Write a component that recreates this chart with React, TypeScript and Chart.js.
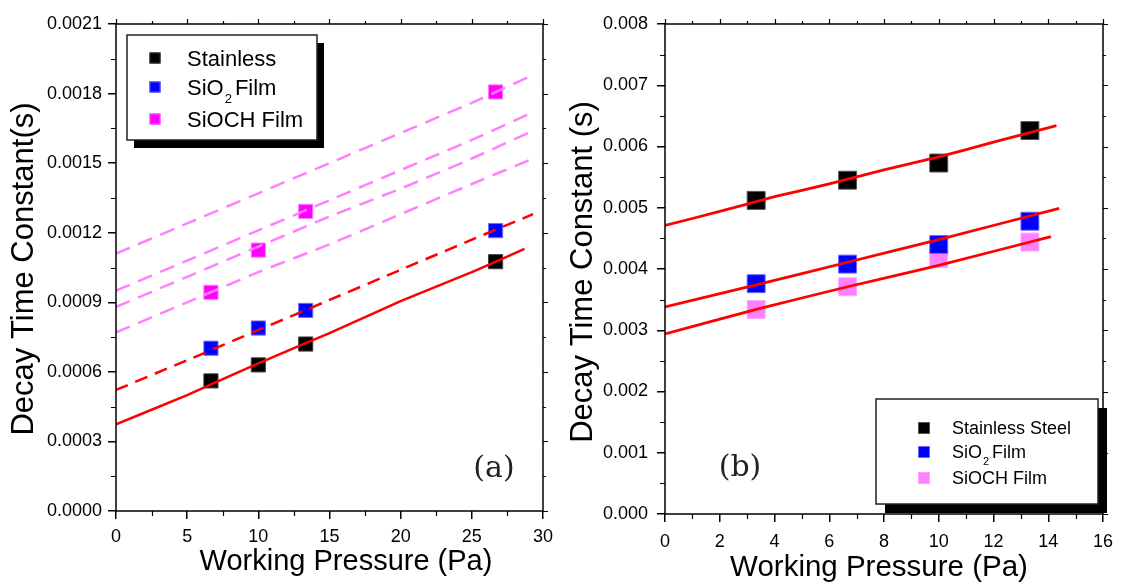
import React, { useEffect, useRef } from "react";
import { Chart, registerables } from "chart.js";

Chart.register(...registerables);

const SANS = "'Liberation Sans', Arial, sans-serif";
const SERIF = "'DejaVu Serif', serif";

// ---------------- Panel (a) data ----------------
const pressureA = [6.67, 10, 13.33, 26.67];
const stainlessA = [0.000561, 0.00063, 0.00072, 0.001075];
const sio2A = [0.000702, 0.000789, 0.000865, 0.001209];
const siochA = [0.000943, 0.001125, 0.001292, 0.001807];

const fitSolidXA = [0, 5, 10, 15, 20, 25, 28.7];
const fitSolidYA = [0.000374, 0.0005, 0.000637, 0.000767, 0.000905, 0.00103, 0.00113];
const fitDashXA = [0, 5, 10, 15, 20, 25, 29.3];
const fitDashYA = [0.000522, 0.00065, 0.00078, 0.00091, 0.00104, 0.00117, 0.00128];
const pinkFitXA = [0, 5, 10, 15, 20, 25, 29.3];
const pinkFit1A = [0.00111, 0.00124, 0.00137, 0.0015, 0.00163, 0.00176, 0.00188];
const pinkFit2A = [0.00095, 0.00108, 0.00121, 0.00134, 0.00147, 0.0016, 0.00172];
const pinkFit3A = [0.00088, 0.00101, 0.00114, 0.00127, 0.00139, 0.00152, 0.00164];
const pinkFit4A = [0.00077, 0.0009, 0.00103, 0.00115, 0.00128, 0.00141, 0.00152];

const xAxisA = { min: 0, max: 30, step: 5, minor: 2.5 };
const yAxisA = { min: 0, max: 0.0021, step: 0.0003, minor: 0.00015, decimals: 4 };
const legendLabelsA = ["Stainless", "SiO|2|Film", "SiOCH Film"];

// ---------------- Panel (b) data ----------------
const pressureB = [3.33, 6.67, 10, 13.33];
const stainlessB = [0.00512, 0.00545, 0.00573, 0.00626];
const sio2B = [0.00376, 0.00408, 0.0044, 0.00478];
const siochB = [0.00334, 0.00371, 0.00417, 0.00444];

const fitTopXB = [0, 2, 4, 6, 8, 10, 12, 14.3];
const fitTopYB = [0.00471, 0.00494, 0.00518, 0.00539, 0.00562, 0.00583, 0.00607, 0.00634];
const fitMidXB = [0, 3.33, 6.67, 10, 14.4];
const fitMidYB = [0.00338, 0.00374, 0.00411, 0.00448, 0.00499];
const fitBotXB = [0, 3.33, 6.67, 10, 14.1];
const fitBotYB = [0.00294, 0.00334, 0.00371, 0.00406, 0.00453];

const xAxisB = { min: 0, max: 16, step: 2, minor: 1 };
const yAxisB = { min: 0, max: 0.008, step: 0.001, minor: 0.0005, decimals: 3 };
const legendLabelsB = ["Stainless Steel", "SiO|2|Film", "SiOCH Film"];

const xTitle = "Working Pressure (Pa)";
const yTitleA = "Decay Time Constant(s)";
const yTitleB = "Decay Time Constant (s)";

// ---------------- styles ----------------
const RED = "#ff0000";
const BLACK = "#000000";
const BLUE = "#0000ff";
const MAGENTA = "#ff00ff";
const LIGHT_PINK = "#ff80ff";

const pts = (xs: number[], ys: number[]) => xs.map((x, i) => ({ x, y: ys[i] }));

type LegendCfg = {
  box: [number, number, number, number];
  shadow: [number, number];
  markerX: number;
  markerSize: number;
  textX: number;
  baselines: number[];
  markerDy: number;
  font: number;
  subFont: number;
  subDy: number;
  labels: string[];
  colors: string[];
  borders: string[];
};

type PanelCfg = {
  id: string;
  left: number;
  width: number;
  yWidth: number;
  xHeight: number;
  padRight: number;
  padTop: number;
  xAxis: { min: number; max: number; step: number; minor: number };
  yAxis: { min: number; max: number; step: number; minor: number; decimals: number };
  xPad: number;
  yPad: number;
  xTitle: { text: string; x: number; y: number; size: number };
  yTitle: { text: string; x: number; y: number; size: number };
  panelLabel: { text: string; x: number; y: number; size: number };
  legend: LegendCfg;
  datasets: any[];
};

function drawTicks(ctx: CanvasRenderingContext2D, chart: any, cfg: PanelCfg) {
  const a = chart.chartArea;
  const sx = chart.scales.x;
  const sy = chart.scales.y;
  ctx.beginPath();
  const nx = Math.round((cfg.xAxis.max - cfg.xAxis.min) / cfg.xAxis.minor);
  for (let i = 0; i <= nx; i++) {
    const v = cfg.xAxis.min + i * cfg.xAxis.minor;
    const r = v / cfg.xAxis.step;
    const major = Math.abs(r - Math.round(r)) < 1e-6;
    const px = Math.round(sx.getPixelForValue(v)) + 0.5;
    if (!major) {
      ctx.moveTo(px, a.bottom);
      ctx.lineTo(px, a.bottom + 5);
    }
    ctx.moveTo(px, a.top);
    ctx.lineTo(px, a.top - (major ? 5 : 3));
  }
  const ny = Math.round((cfg.yAxis.max - cfg.yAxis.min) / cfg.yAxis.minor);
  for (let i = 0; i <= ny; i++) {
    const v = cfg.yAxis.min + i * cfg.yAxis.minor;
    const r = v / cfg.yAxis.step;
    const major = Math.abs(r - Math.round(r)) < 1e-6;
    const py = Math.round(sy.getPixelForValue(v)) + 0.5;
    if (!major) {
      ctx.moveTo(a.left, py);
      ctx.lineTo(a.left - 5, py);
    }
    ctx.moveTo(a.right, py);
    ctx.lineTo(a.right + (major ? 5 : 3), py);
  }
  ctx.strokeStyle = "#000";
  ctx.lineWidth = 1.2;
  ctx.stroke();
}

function drawLegend(ctx: CanvasRenderingContext2D, lg: LegendCfg) {
  const [bx, by, bw, bh] = lg.box;
  ctx.fillStyle = "#000";
  ctx.fillRect(bx + lg.shadow[0], by + lg.shadow[1], bw, bh);
  ctx.fillStyle = "#fff";
  ctx.fillRect(bx, by, bw, bh);
  ctx.strokeStyle = "#222";
  ctx.lineWidth = 1.5;
  ctx.strokeRect(bx, by, bw, bh);

  lg.labels.forEach((label, i) => {
    const base = lg.baselines[i];
    const cy = base - lg.markerDy;
    const s = lg.markerSize;
    ctx.fillStyle = lg.colors[i];
    ctx.fillRect(lg.markerX - s / 2, cy - s / 2, s, s);
    ctx.strokeStyle = lg.borders[i];
    ctx.lineWidth = 1;
    ctx.strokeRect(lg.markerX - s / 2 + 0.5, cy - s / 2 + 0.5, s - 1, s - 1);

    ctx.fillStyle = "#000";
    ctx.textAlign = "left";
    ctx.textBaseline = "alphabetic";
    const parts = label.split("|");
    ctx.font = `${lg.font}px ${SANS}`;
    if (parts.length === 1) {
      ctx.fillText(label, lg.textX, base);
    } else {
      ctx.fillText(parts[0], lg.textX, base);
      let x = lg.textX + ctx.measureText(parts[0]).width + 1;
      ctx.font = `${lg.subFont}px ${SANS}`;
      ctx.fillText(parts[1], x, base + lg.subDy);
      x += ctx.measureText(parts[1]).width + 3;
      ctx.font = `${lg.font}px ${SANS}`;
      ctx.fillText(parts[2], x, base);
    }
  });
}

function decorPlugin(cfg: PanelCfg) {
  return {
    id: "decor" + cfg.id,
    afterDraw(chart: any) {
      const ctx: CanvasRenderingContext2D = chart.ctx;
      const a = chart.chartArea;
      ctx.save();
      ctx.strokeStyle = "#000";
      ctx.lineWidth = 1.5;
      ctx.strokeRect(a.left, a.top, a.right - a.left, a.bottom - a.top);
      drawTicks(ctx, chart, cfg);

      ctx.fillStyle = "#000";
      ctx.textAlign = "center";
      ctx.textBaseline = "middle";
      ctx.font = `${cfg.xTitle.size}px ${SANS}`;
      ctx.fillText(cfg.xTitle.text, cfg.xTitle.x, cfg.xTitle.y);
      ctx.save();
      ctx.translate(cfg.yTitle.x, cfg.yTitle.y);
      ctx.rotate(-Math.PI / 2);
      ctx.font = `${cfg.yTitle.size}px ${SANS}`;
      ctx.fillText(cfg.yTitle.text, 0, 0);
      ctx.restore();

      ctx.font = `${cfg.panelLabel.size}px ${SERIF}`;
      ctx.fillStyle = "#222";
      ctx.fillText(cfg.panelLabel.text, cfg.panelLabel.x, cfg.panelLabel.y);

      drawLegend(ctx, cfg.legend);
      ctx.restore();
    },
  };
}

function lineDs(label: string, xs: number[], ys: number[], color: string, width: number, dash: number[]) {
  return {
    label,
    data: pts(xs, ys),
    borderColor: color,
    backgroundColor: color,
    borderWidth: width,
    borderDash: dash,
    pointRadius: 0,
    tension: 0.15,
    fill: false,
    showLine: true,
  };
}

function markDs(label: string, xs: number[], ys: number[], color: string, border: string, radius: number) {
  return {
    label,
    data: pts(xs, ys),
    showLine: false,
    pointStyle: "rect",
    pointRadius: radius,
    pointHoverRadius: radius,
    pointBackgroundColor: color,
    pointBorderColor: border,
    pointBorderWidth: 1,
    backgroundColor: color,
    borderColor: border,
  };
}

const panelA: PanelCfg = {
  id: "A",
  left: 0,
  width: 560,
  yWidth: 116,
  xHeight: 74,
  padRight: 14,
  padTop: 24,
  xAxis: xAxisA,
  yAxis: yAxisA,
  xPad: 7,
  yPad: 6,
  xTitle: { text: xTitle, x: 346, y: 562, size: 29 },
  yTitle: { text: yTitleA, x: 24, y: 269, size: 31 },
  panelLabel: { text: "(a)", x: 494, y: 469, size: 30 },
  legend: {
    box: [127, 35, 190, 105],
    shadow: [7, 8],
    markerX: 155,
    markerSize: 11,
    textX: 187,
    baselines: [66, 95, 127],
    markerDy: 8,
    font: 22,
    subFont: 13,
    subDy: 8,
    labels: legendLabelsA,
    colors: [BLACK, BLUE, MAGENTA],
    borders: ["#333", "#5a5aff", "#ff66ff"],
  },
  datasets: [
    lineDs("Stainless fit", fitSolidXA, fitSolidYA, RED, 2.5, []),
    lineDs("SiO2 fit", fitDashXA, fitDashYA, RED, 2.5, [13, 8]),
    lineDs("SiOCH fit 1", pinkFitXA, pinkFit1A, LIGHT_PINK, 2.5, [15, 9]),
    lineDs("SiOCH fit 2", pinkFitXA, pinkFit2A, LIGHT_PINK, 2.5, [15, 9]),
    lineDs("SiOCH fit 3", pinkFitXA, pinkFit3A, LIGHT_PINK, 2.5, [15, 9]),
    lineDs("SiOCH fit 4", pinkFitXA, pinkFit4A, LIGHT_PINK, 2.5, [15, 9]),
    markDs("Stainless", pressureA, stainlessA, BLACK, "#444", 10),
    markDs("SiO2 Film", pressureA, sio2A, BLUE, "#6a6aff", 10),
    markDs("SiOCH Film", pressureA, siochA, MAGENTA, "#ff77ff", 10),
  ],
};

const panelB: PanelCfg = {
  id: "B",
  left: 560,
  width: 564,
  yWidth: 105,
  xHeight: 71,
  padRight: 21,
  padTop: 24,
  xAxis: xAxisB,
  yAxis: yAxisB,
  xPad: 9,
  yPad: 9,
  xTitle: { text: xTitle, x: 319, y: 568, size: 29.5 },
  yTitle: { text: yTitleB, x: 23, y: 272, size: 31 },
  panelLabel: { text: "(b)", x: 180, y: 468, size: 30 },
  legend: {
    box: [316, 399, 222, 105],
    shadow: [9, 9],
    markerX: 364,
    markerSize: 12,
    textX: 392,
    baselines: [434, 458, 484],
    markerDy: 6,
    font: 18,
    subFont: 11,
    subDy: 7,
    labels: legendLabelsB,
    colors: [BLACK, BLUE, LIGHT_PINK],
    borders: ["#555", "#6a6aff", "#ffa0ff"],
  },
  datasets: [
    lineDs("Stainless fit", fitTopXB, fitTopYB, RED, 2.8, []),
    lineDs("SiO2 fit", fitMidXB, fitMidYB, RED, 2.8, []),
    lineDs("SiOCH fit", fitBotXB, fitBotYB, RED, 2.8, []),
    markDs("Stainless Steel", pressureB, stainlessB, BLACK, "#555", 12.7),
    markDs("SiO2 Film", pressureB, sio2B, BLUE, "#6a6aff", 12.7),
    markDs("SiOCH Film", pressureB, siochB, LIGHT_PINK, "#ffa8ff", 12.7),
  ],
};

function PanelChart({ cfg }: { cfg: PanelCfg }) {
  const ref = useRef<HTMLCanvasElement | null>(null);
  useEffect(() => {
    if (!ref.current) return;
    const tickFont = { family: SANS, size: 18 };
    const grid = {
      display: true,
      drawOnChartArea: false,
      drawTicks: true,
      tickLength: 8,
      tickColor: "#000",
      tickWidth: 1.5,
      color: "#000",
      lineWidth: 1.5,
    };
    const chart = new Chart(ref.current, {
      type: "line",
      data: { datasets: cfg.datasets },
      options: {
        responsive: false,
        animation: false,
        devicePixelRatio: 1,
        events: [],
        layout: { padding: { left: 0, top: cfg.padTop, right: cfg.padRight, bottom: 0 } },
        plugins: { legend: { display: false }, tooltip: { enabled: false }, title: { display: false } },
        scales: {
          x: {
            type: "linear",
            min: cfg.xAxis.min,
            max: cfg.xAxis.max,
            grid,
            border: { display: false },
            ticks: {
              stepSize: cfg.xAxis.step,
              font: tickFont,
              color: "#000",
              padding: cfg.xPad,
              maxRotation: 0,
              autoSkip: false,
              callback: (v: any) => String(Math.round(Number(v) * 1000) / 1000),
            },
            afterFit: (s: any) => {
              s.height = cfg.xHeight;
            },
          },
          y: {
            type: "linear",
            min: cfg.yAxis.min,
            max: cfg.yAxis.max,
            grid,
            border: { display: false },
            ticks: {
              stepSize: cfg.yAxis.step,
              font: tickFont,
              color: "#000",
              padding: cfg.yPad,
              autoSkip: false,
              callback: (v: any) => Number(v).toFixed(cfg.yAxis.decimals),
            },
            afterFit: (s: any) => {
              s.width = cfg.yWidth;
            },
          },
        },
      } as any,
      plugins: [decorPlugin(cfg)],
    });
    return () => chart.destroy();
  }, [cfg]);
  return (
    <canvas
      ref={ref}
      width={cfg.width}
      height={585}
      style={{ position: "absolute", left: cfg.left, top: 0, width: cfg.width, height: 585 }}
    />
  );
}

export default function App() {
  return (
    <div style={{ position: "fixed", left: 0, top: 0, width: 1124, height: 585, background: "#fff" }}>
      <PanelChart cfg={panelA} />
      <PanelChart cfg={panelB} />
    </div>
  );
}
